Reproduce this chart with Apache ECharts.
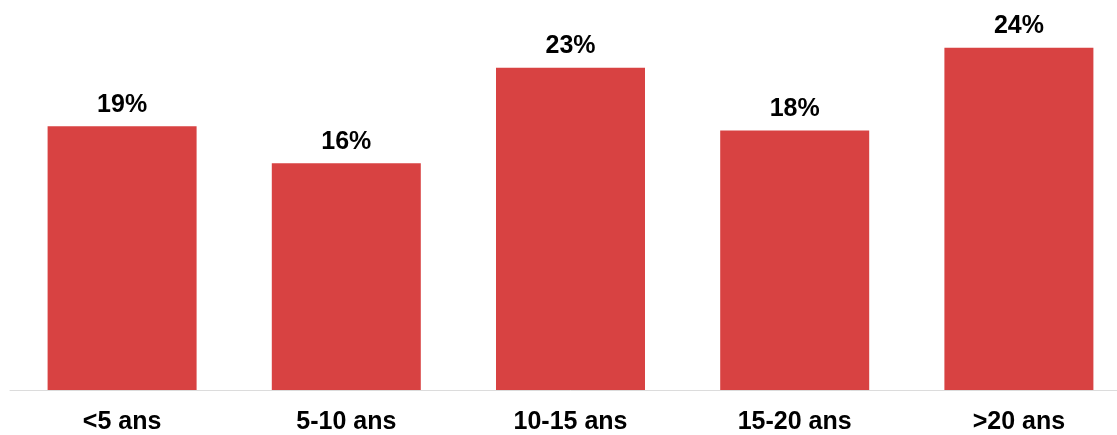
<!DOCTYPE html>
<html><head><meta charset="utf-8">
<script src="https://cdn.jsdelivr.net/npm/echarts@6/dist/echarts.min.js"></script>
<style>html,body{margin:0;padding:0;background:#fff;overflow:hidden;width:1117px;height:435px}#c{width:1131px;height:435px}</style>
</head><body><div id="c"></div>
<script>
const categories = ['<5 ans', '5-10 ans', '10-15 ans', '15-20 ans', '>20 ans'];
const values = [18.5, 15.9, 22.6, 18.2, 24.0];
const labels = ['19%', '16%', '23%', '18%', '24%'];

const chart = echarts.init(document.getElementById('c'));
const font = '"Liberation Sans Narrow", "Arial Narrow", sans-serif';
chart.setOption({
  animation: false,
  grid: {left: 10, right: 0, top: 33.5, bottom: 45},
  xAxis: {
    type: 'category', data: categories,
    axisLine: {lineStyle: {color: '#dcdcdc', width: 1}},
    axisTick: {show: false},
    axisLabel: {color: '#000', fontFamily: font, fontWeight: 'bold', fontSize: 25, margin: 20}
  },
  yAxis: {type: 'value', min: 0, max: 25, show: false, splitLine: {show: false}},
  series: [{
    type: 'bar', data: values, barWidth: 149,
    itemStyle: {color: '#d84242'},
    label: {show: true, position: 'top', distance: 9, color: '#000', fontFamily: font, fontWeight: 'bold', fontSize: 25,
      formatter: p => labels[p.dataIndex]}
  }]
});
</script></body></html>
